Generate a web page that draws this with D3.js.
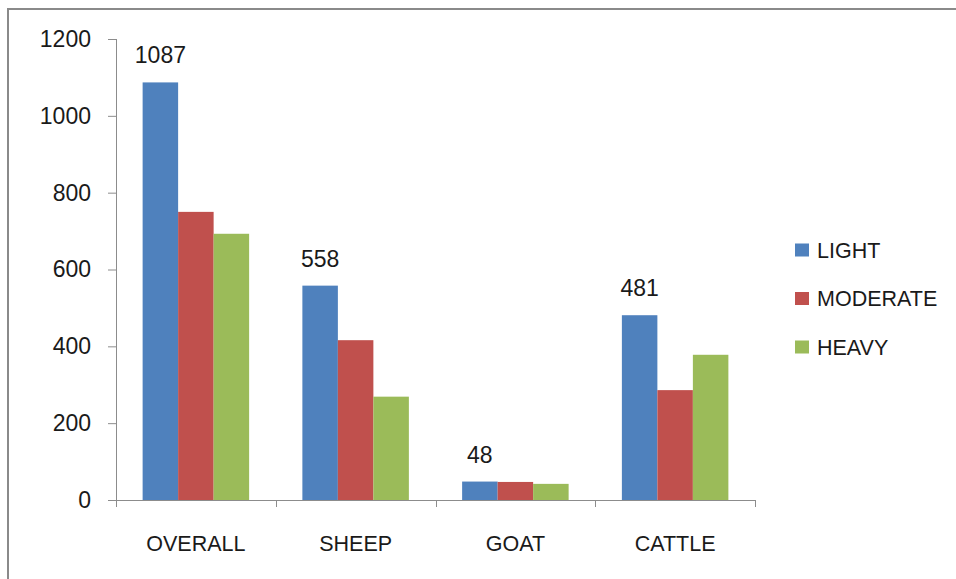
<!DOCTYPE html>
<html>
<head>
<meta charset="utf-8">
<script src="https://cdn.jsdelivr.net/npm/d3@7"></script>
<style>
  html, body { margin: 0; padding: 0; background: #fff; }
  svg { display: block; }
  text { font-family: "Liberation Sans", Arial, sans-serif; fill: #1a1a1a; }
</style>
</head>
<body>
<svg id="chart" width="956" height="579"></svg>
<script>
// Grazing intensity counts by livestock group
const categories = ["OVERALL", "SHEEP", "GOAT", "CATTLE"];
const seriesNames = ["LIGHT", "MODERATE", "HEAVY"];
const lightValues = [1087, 558, 48, 481];
const moderateValues = [750, 416, 47, 286];
const heavyValues = [693, 269, 42, 378];
const yTicks = [0, 200, 400, 600, 800, 1000, 1200];
const colors = ["#4F81BD", "#C0504D", "#9BBB59"];

const series = [lightValues, moderateValues, heavyValues];
const numberSize = 23;
const wordSize = 21.5;

const svg = d3.select("#chart");

// Chart frame (top and left edges)
svg.append("line").attr("x1", 8).attr("x2", 956).attr("y1", 9).attr("y2", 9)
  .attr("stroke", "#8a8a8a").attr("stroke-width", 2);
svg.append("line").attr("x1", 8).attr("x2", 8).attr("y1", 8).attr("y2", 579)
  .attr("stroke", "#8a8a8a").attr("stroke-width", 2);

const plot = { left: 116, right: 755, top: 39, bottom: 500 };

const x0 = d3.scaleBand()
  .domain(categories)
  .range([plot.left, plot.right])
  .paddingInner(1 / 3)
  .paddingOuter(1 / 6);

const x1 = d3.scaleBand()
  .domain(seriesNames)
  .range([0, x0.bandwidth()]);

const y = d3.scaleLinear()
  .domain([0, 1200])
  .range([plot.bottom, plot.top]);

// Y axis
const yAxis = svg.append("g")
  .attr("transform", `translate(${plot.left},0)`)
  .call(d3.axisLeft(y).tickValues(yTicks).tickFormat(d3.format("d")).tickSize(8).tickPadding(17));
yAxis.select(".domain").attr("stroke", "#8c8c8c").attr("d", `M0.5,${plot.top}V${plot.bottom}`);
yAxis.selectAll(".tick line").attr("stroke", "#8c8c8c");
yAxis.selectAll(".tick text").attr("font-size", numberSize).attr("fill", "#1a1a1a")
  .attr("font-family", "Liberation Sans, Arial, sans-serif");

// X axis with category-boundary ticks
const boundaries = categories.map(c => x0(c) - x0.step() * x0.paddingInner() / 2)
  .concat([plot.right]);
const xg = svg.append("g");
xg.append("line")
  .attr("x1", plot.left - 8).attr("x2", plot.right)
  .attr("y1", plot.bottom + 0.5).attr("y2", plot.bottom + 0.5)
  .attr("stroke", "#8c8c8c");
xg.selectAll("line.bt").data(boundaries).join("line")
  .attr("class", "bt")
  .attr("x1", d => Math.round(d) + 0.5).attr("x2", d => Math.round(d) + 0.5)
  .attr("y1", plot.bottom).attr("y2", plot.bottom + 7)
  .attr("stroke", "#8c8c8c");
xg.selectAll("text").data(categories).join("text")
  .attr("x", d => x0(d) + x0.bandwidth() / 2)
  .attr("y", 551)
  .attr("text-anchor", "middle")
  .attr("font-size", wordSize)
  .text(d => d);

// Bars
const groups = svg.append("g").selectAll("g")
  .data(categories)
  .join("g")
  .attr("transform", d => `translate(${x0(d)},0)`);

groups.selectAll("rect")
  .data((c, i) => series.map((s, k) => ({ key: seriesNames[k], value: s[i], k })))
  .join("rect")
  .attr("x", d => x1(d.key))
  .attr("width", x1.bandwidth())
  .attr("y", d => y(d.value))
  .attr("height", d => y(0) - y(d.value))
  .attr("fill", d => colors[d.k]);

// Value labels above the LIGHT bars
groups.append("text")
  .attr("x", x1("LIGHT") + x1.bandwidth() / 2)
  .attr("y", (c, i) => y(lightValues[i]) - 19)
  .attr("text-anchor", "middle")
  .attr("font-size", numberSize)
  .text((c, i) => lightValues[i]);

// Legend
const legend = svg.append("g");
const legendItems = legend.selectAll("g")
  .data(seriesNames)
  .join("g")
  .attr("transform", (d, i) => `translate(795,${250 + i * 48.5})`);
legendItems.append("rect")
  .attr("x", 0).attr("y", -6.5)
  .attr("width", 14).attr("height", 13)
  .attr("fill", (d, i) => colors[i]);
legendItems.append("text")
  .attr("x", 22).attr("y", 0)
  .attr("dy", "0.36em")
  .attr("font-size", wordSize)
  .text(d => d);
</script>
</body>
</html>
